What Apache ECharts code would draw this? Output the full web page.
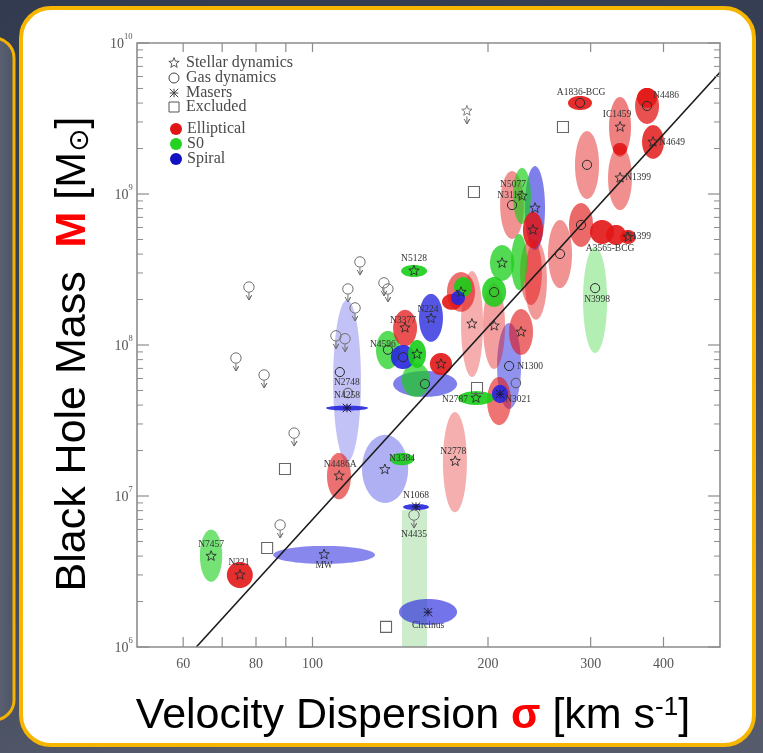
<!DOCTYPE html>
<html>
<head>
<meta charset="utf-8">
<script src="https://cdn.jsdelivr.net/npm/echarts@6/dist/echarts.min.js"></script>
<style>
html, body { margin: 0; padding: 0; background: #363f55; }
#c { width: 763px; height: 753px; }
</style>
</head>
<body>
<div id="c"></div>
<script>
// ---- M–sigma sample: velocity dispersion (km/s) and black-hole mass (solar masses) ----
const galaxyNames = ['N7457','N221','MW','Circinus','N1068','N3384','','N4486A','N2778','N4258',
  'N2748','N5128','N224','N3377','N4596','','','','','',
  '','','','','','','','','N1300','N3021',
  '','N2787','N5077','N3115','','','','','','',
  '','','A3565-BCG','','N1399','N3998','A1836-BCG','IC1459','N1399','',
  'N4486','','N4649',''];
// E = elliptical, S0 = lenticular, S = spiral
const galaxyTypes = ['S0','E','S','S','S','S0','S','E','E','S',
  'S','S0','S','E','S0','S','S0','S','S0','E',
  'E','E','S0','S','E','S0','E','E','S','E',
  'S','S0','E','S0','S','E','E','E','S0','S0',
  'E','E','E','E','E','S0','E','E','E','E',
  'E','E','E','E'];
// measurement method: star = stellar dynamics, gas = gas dynamics, maser = masers
const methods = ['star','star','star','maser','maser','','star','star','star','maser',
  'gas','star','star','star','gas','gas','star','gas','','star',
  'star','','','','star','gas','star','star','gas','',
  'maser','star','gas','star','star','star','','','star','',
  'gas','gas','','','star','gas','gas','star','star','',
  'gas','','star','gas'];
const sigma = [67, 75.1, 104.7, 157.8, 150.5, 142.4, 133.1, 111.1, 175.7, 114.6,
  111.4, 149.3, 159.7, 144.1, 134.7, 143.0, 151.1, 155.9, 150.5, 166.1,
  179.8, 173.5, 181.2, 177.7, 187.7, 204.9, 204.9, 227.9, 217.4, 209.0,
  209.8, 190.7, 219.9, 228.8, 240.8, 238.9, 237.0, 241.7, 211.4, 226.1,
  265.8, 288.8, 313.8, 331.6, 347.8, 305.3, 287.7, 337.0, 337.0, 337.0,
  374.8, 374.8, 383.8, 295.7];
const sigmaLo = [64.1, 71.3, 85.6, 140.7, 143.0, 135.8, 121.6, 105.9, 167.4, 105.5,
  108.5, 141.9, 152.3, 137.5, 128.5, 136.3, 145.9, 137.5, 142.4, 159.0,
  170.1, 166.8, 174.9, 172.9, 179.8, 195.4, 196.1, 217.4, 207.3, 199.3,
  203.2, 177.7, 209.8, 220.8, 231.4, 229.6, 227.0, 231.4, 201.6, 219.1,
  253.5, 275.4, 299.2, 318.8, 337.0, 291.1, 274.3, 322.6, 321.3, 327.6,
  357.5, 360.3, 367.5, 282.0];
const sigmaHi = [70.0, 79.0, 128.0, 177.0, 158.4, 149.3, 145.9, 116.4, 184.0, 124.5,
  121.1, 157.2, 167.4, 151.1, 141.2, 149.9, 156.6, 177.0, 159.0, 173.5,
  190.0, 180.5, 187.7, 182.6, 196.1, 214.8, 213.9, 238.9, 227.9, 219.1,
  216.5, 204.9, 230.5, 237.0, 250.5, 248.5, 247.5, 252.4, 221.7, 233.4,
  278.7, 302.8, 329.0, 345.0, 358.9, 320.1, 301.6, 351.8, 353.2, 346.4,
  393.0, 389.9, 400.8, 310.1];
const mass = [4.0e6, 3.0e6, 4.1e6, 1.7e6, 8.5e6, 1.76e7, 1.5e7, 1.36e7, 1.7e7, 3.83e7,
  6.62e7, 3.1e8, 1.5e8, 1.3e8, 9.3e7, 8.3e7, 8.7e7, 5.52e7, 5.86e7, 7.48e7,
  2.24e8, 1.93e8, 2.42e8, 2.05e8, 1.38e8, 2.24e8, 1.34e8, 1.22e8, 7.26e7, 4.26e7,
  4.73e7, 4.46e7, 8.45e8, 9.7e8, 8.07e8, 5.78e8, 3.04e8, 2.69e8, 3.49e8, 3.55e8,
  4.01e8, 6.24e8, 5.6e8, 5.35e8, 5.19e8, 2.38e8, 4.01e9, 2.78e9, 1.28e9, 1.99e9,
  3.83e9, 4.33e9, 2.21e9, 1.56e9];
const massLo = [2.7e6, 2.46e6, 3.55e6, 1.4e6, 8.07e6, 1.6e7, 9.0e6, 9.5e6, 7.8e6, 3.68e7,
  1.68e7, 2.82e8, 1.05e8, 9.8e7, 6.93e7, 6.93e7, 7.05e7, 4.53e7, 4.53e7, 6.33e7,
  1.66e8, 1.71e8, 2.08e8, 1.84e8, 6.14e7, 1.79e8, 6.93e7, 8.6e7, 3.77e7, 2.95e7,
  4.13e7, 4.01e7, 5.04e8, 6.33e8, 4.26e8, 4.39e8, 1.84e8, 1.47e8, 2.66e8, 2.31e8,
  2.38e8, 4.46e8, 4.67e8, 4.59e8, 4.67e8, 8.86e7, 3.6e9, 1.76e9, 7.83e8, 1.81e9,
  2.91e9, 3.72e9, 1.71e9, 9.27e8];
const massHi = [6.0e6, 3.66e6, 4.67e6, 2.08e6, 8.85e6, 1.93e7, 2.54e7, 1.93e7, 3.6e7, 3.97e7,
  1.99e8, 3.39e8, 2.18e8, 1.71e8, 1.24e8, 1.0e8, 1.08e8, 6.73e7, 7.6e7, 8.86e7,
  3.04e8, 2.18e8, 2.82e8, 2.28e8, 3.09e8, 2.82e8, 2.58e8, 1.73e8, 1.40e8, 6.14e7,
  5.44e7, 4.95e7, 1.42e9, 1.49e9, 1.53e9, 7.6e8, 5.04e8, 4.95e8, 4.59e8, 5.43e8,
  6.73e8, 8.71e8, 6.73e8, 6.24e8, 5.78e8, 4.46e8, 4.46e9, 4.39e9, 2.08e9, 2.18e9,
  5.04e9, 5.04e9, 2.86e9, 2.61e9];

// upper limits (marker sits on the limit, arrow points down)
const limitSigma = [77.8, 73.9, 82.6, 93.0, 88.0, 120.6, 115.0, 118.3, 109.7, 113.7, 132.6, 134.7, 149.3, 184.0];
const limitMass = [2.42e8, 8.2e7, 6.33e7, 2.61e7, 6.43e6, 3.55e8, 2.35e8, 1.76e8, 1.15e8, 1.10e8, 2.58e8, 2.35e8, 7.48e6, 3.55e9];
const limitKind = ['gas','gas','gas','gas','gas','gas','gas','gas','gas','gas','gas','gas','gas','star'];
// N4435: upper limit drawn as a band down to the bottom of the range
const bandName = 'N4435';
const bandSigmaLo = 142.4, bandSigmaHi = 157.2, bandMassHi = 8.07e6, bandMassLo = 1e6;
// additional gas-dynamics points without an error ellipse
const gasSigma = [115.0, 223.3];
const gasMass = [4.81e7, 5.6e7];
// excluded objects
const excludedSigma = [89.7, 83.6, 133.7, 189.2, 268.9, 191.5];
const excludedMass = [1.51e7, 4.53e6, 1.36e6, 1.03e9, 2.78e9, 5.19e7];
// fitted relation
const fitSigma = [63.2, 500];
const fitMass = [1e6, 6.41e9];

// axis ticks
const xTickValues = [60, 70, 80, 90, 100, 200, 300, 400];
const xTickLabels = [60, 80, 100, 200, 300, 400];
const yMajorTicks = [1e6, 1e7, 1e8, 1e9, 1e10];
const yMajorExp = [6, 7, 8, 9, 10];
const yMinorTicks = [2e6, 3e6, 4e6, 5e6, 6e6, 7e6, 8e6, 9e6,
  2e7, 3e7, 4e7, 5e7, 6e7, 7e7, 8e7, 9e7,
  2e8, 3e8, 4e8, 5e8, 6e8, 7e8, 8e8, 9e8,
  2e9, 3e9, 4e9, 5e9, 6e9, 7e9, 8e9, 9e9];

// ---- styling ----
const typeColor = { E: [226, 22, 22], S0: [24, 206, 24], S: [38, 38, 222] };
const typeShade = { E: 1, S0: 1, S: 1.3 };
const serif = 'Liberation Serif';
const sans = 'Liberation Sans';
const labelOffset = {
  0: [0, -12], 1: [-1, -12], 2: [0, 11], 3: [0, 13], 4: [0, -11], 5: [0, 0], 7: [1, -11],
  8: [-2, -10], 9: [0, -12], 10: [7, 10], 11: [0, -12], 12: [-3, -9], 13: [-2, -7],
  14: [-5, -5], 28: [21, 1], 29: [19, -1], 31: [-21, 2], 32: [1, -21], 33: [-12, 0],
  42: [8, 16], 44: [10, -1], 45: [2, 11], 46: [1, -10], 47: [-3, -12], 48: [18, 0],
  50: [19, -10], 52: [19, 1]
};

function starPoints(cx, cy, R, r) {
  const pts = [];
  for (let k = 0; k < 10; k++) {
    const ang = -Math.PI / 2 + k * Math.PI / 5;
    const rad = k % 2 === 0 ? R : r;
    pts.push([cx + rad * Math.cos(ang), cy + rad * Math.sin(ang)]);
  }
  return pts;
}
function ellipsePoints(cx, cy, rx, ry) {
  const pts = [];
  for (let k = 0; k < 64; k++) {
    const t = 2 * Math.PI * k / 64;
    pts.push([cx + rx * Math.cos(t), cy + ry * Math.sin(t)]);
  }
  return pts;
}
function starEl(x, y, color) {
  return { type: 'polygon', shape: { points: starPoints(x, y, 5.4, 2.3) },
    style: { fill: 'none', stroke: color, lineWidth: 0.9 } };
}
function circleEl(x, y, color, r) {
  return { type: 'circle', shape: { cx: x, cy: y, r: r || 4.6 },
    style: { fill: 'none', stroke: color, lineWidth: 1 } };
}
function maserEl(x, y, color) {
  const s = 4.2, ch = [];
  [[-s, 0, s, 0], [-s, -s, s, s], [-s, s, s, -s], [0, -s, 0, s]].forEach(d => {
    ch.push({ type: 'line', shape: { x1: x + d[0], y1: y + d[1], x2: x + d[2], y2: y + d[3] },
      style: { stroke: color, lineWidth: 1 } });
  });
  return { type: 'group', children: ch };
}
function arrowEl(x, y, color) {
  return { type: 'polyline', shape: { points: [[x - 2.8, y + 8], [x, y + 13], [x + 2.8, y + 8], [x, y + 13], [x, y + 5.5]] },
    style: { fill: 'none', stroke: color, lineWidth: 1 } };
}
function markerEl(kind, x, y, color) {
  if (kind === 'star') return starEl(x, y, color);
  if (kind === 'gas') return circleEl(x, y, color);
  if (kind === 'maser') return maserEl(x, y, color);
  return null;
}

function logArea(i) {
  return Math.log10(sigmaHi[i] / sigmaLo[i]) * Math.log10(massHi[i] / massLo[i]);
}
const ellipseOrder = galaxyNames.map((_, i) => i).sort((a, b) => logArea(b) - logArea(a));

const chart = echarts.init(document.getElementById('c'), null, { renderer: 'canvas', width: 763, height: 753 });

const legendText = (x, y, t) => ({ type: 'text', x: x, y: y,
  style: { text: t, fontSize: 16, fontFamily: serif, fill: '#4a4a4a', verticalAlign: 'middle', textVerticalAlign: 'middle' } });

const option = {
  animation: false,
  backgroundColor: {
    type: 'linear', x: 0, y: 0, x2: 0.3, y2: 1,
    colorStops: [{ offset: 0, color: '#333b50' }, { offset: 0.6, color: '#3a4257' }, { offset: 1, color: '#555b6b' }]
  },
  grid: { left: 137, top: 43, width: 583, height: 604, containLabel: false },
  xAxis: {
    type: 'log', logBase: 10, min: 50, max: 500,
    axisLine: { show: false }, axisTick: { show: false }, axisLabel: { show: false }, splitLine: { show: false }
  },
  yAxis: {
    type: 'log', logBase: 10, min: 1e6, max: 1e10,
    axisLine: { show: false }, axisTick: { show: false }, axisLabel: { show: false }, splitLine: { show: false }
  },
  graphic: [
    { type: 'rect', z: -10, shape: { x: -40, y: 38, width: 54, height: 682, r: 20 },
      style: { fill: { type: 'linear', x: 0, y: 0, x2: 1, y2: 0,
        colorStops: [{ offset: 0, color: '#7a7f8c' }, { offset: 1, color: '#4c5366' }] },
        stroke: '#f3b300', lineWidth: 3 } },
    { type: 'rect', z: -10, shape: { x: 21, y: 8, width: 733, height: 737, r: 30 },
      style: { fill: '#ffffff', stroke: '#f6b600', lineWidth: 4 } },
    // axis titles
    { type: 'text', z: 10, x: 73, y: 354, rotation: Math.PI / 2,
      style: { text: 'Black Hole Mass  {m|M} [M{sun|⊙}]',
        fontSize: 43, fontFamily: sans, fill: '#000',
        align: 'center', verticalAlign: 'middle', textAlign: 'center', textVerticalAlign: 'middle',
        rich: {
          m: { fontSize: 43, fontFamily: sans, fontWeight: 'bold', fill: '#ff0000' },
          sun: { fontSize: 28, fontFamily: 'DejaVu Sans', fill: '#000', verticalAlign: 'bottom' }
        } } },
    { type: 'text', z: 10, x: 413, y: 716,
      style: { text: 'Velocity Dispersion {s|σ} [km s{e|-1}]',
        fontSize: 43, fontFamily: sans, fill: '#000',
        align: 'center', verticalAlign: 'middle', textAlign: 'center', textVerticalAlign: 'middle',
        rich: {
          s: { fontSize: 43, fontFamily: sans, fontWeight: 'bold', fill: '#ff0000' },
          e: { fontSize: 26, fontFamily: sans, fill: '#000', verticalAlign: 'top' }
        } } },
    // symbol key
    { type: 'group', z: 10, children: [
      { type: 'polygon', shape: { points: starPoints(174, 63, 5.4, 2.3) }, style: { fill: 'none', stroke: '#444', lineWidth: 0.9 } },
      { type: 'circle', shape: { cx: 174, cy: 78, r: 5 }, style: { fill: 'none', stroke: '#444', lineWidth: 1 } },
      maserEl(174, 93, '#444'),
      { type: 'rect', shape: { x: 169, y: 102, width: 10, height: 10 }, style: { fill: 'none', stroke: '#555', lineWidth: 1 } },
      { type: 'circle', shape: { cx: 176, cy: 129, r: 6 }, style: { fill: '#e01414' } },
      { type: 'circle', shape: { cx: 176, cy: 144, r: 6 }, style: { fill: '#22d322' } },
      { type: 'circle', shape: { cx: 176, cy: 159, r: 6 }, style: { fill: '#1212c4' } },
      legendText(186, 63, 'Stellar dynamics'),
      legendText(186, 78, 'Gas dynamics'),
      legendText(186, 93, 'Masers'),
      legendText(186, 107, 'Excluded'),
      legendText(187, 129, 'Elliptical'),
      legendText(187, 144, 'S0'),
      legendText(187, 159, 'Spiral')
    ] }
  ],
  series: [
    // frame, ticks and tick labels
    {
      type: 'custom', z: 6, silent: true, clip: false,
      data: [[100, 1e8]],
      renderItem: function (params, api) {
        const ch = [];
        const tl = api.coord([50, 1e10]), br = api.coord([500, 1e6]);
        const axisColor = '#8c8c8c', tickColor = '#8c8c8c', txt = '#555';
        ch.push({ type: 'rect', shape: { x: tl[0], y: tl[1], width: br[0] - tl[0], height: br[1] - tl[1] },
          style: { fill: 'none', stroke: axisColor, lineWidth: 1.6 } });
        xTickValues.forEach(v => {
          const b = api.coord([v, 1e6]), t = api.coord([v, 1e10]);
          ch.push({ type: 'line', shape: { x1: b[0], y1: b[1], x2: b[0], y2: b[1] - 10 }, style: { stroke: tickColor, lineWidth: 1.2 } });
          ch.push({ type: 'line', shape: { x1: t[0], y1: t[1], x2: t[0], y2: t[1] + 9 }, style: { stroke: tickColor, lineWidth: 1.2 } });
        });
        xTickLabels.forEach(v => {
          const b = api.coord([v, 1e6]);
          ch.push({ type: 'text', x: b[0], y: b[1] + 17,
            style: { text: String(v), fontSize: 14, fontFamily: serif, fill: txt,
              align: 'center', verticalAlign: 'middle', textAlign: 'center', textVerticalAlign: 'middle' } });
        });
        yMajorTicks.forEach((v, k) => {
          const l = api.coord([50, v]), r = api.coord([500, v]);
          ch.push({ type: 'line', shape: { x1: l[0], y1: l[1], x2: l[0] + 12, y2: l[1] }, style: { stroke: tickColor, lineWidth: 1.2 } });
          ch.push({ type: 'line', shape: { x1: r[0], y1: r[1], x2: r[0] - 12, y2: r[1] }, style: { stroke: tickColor, lineWidth: 1.2 } });
          const expStr = String(yMajorExp[k]);
          const expW = expStr.length * 4.5;
          ch.push({ type: 'text', x: l[0] - 4 - expW, y: l[1] + 1,
            style: { text: '10', fontSize: 14, fontFamily: serif, fill: txt,
              align: 'right', verticalAlign: 'middle', textAlign: 'right', textVerticalAlign: 'middle' } });
          ch.push({ type: 'text', x: l[0] - 4 - expW, y: l[1] - 6,
            style: { text: expStr, fontSize: 8.5, fontFamily: serif, fill: txt,
              align: 'left', verticalAlign: 'middle', textAlign: 'left', textVerticalAlign: 'middle' } });
        });
        yMinorTicks.forEach(v => {
          const l = api.coord([50, v]), r = api.coord([500, v]);
          ch.push({ type: 'line', shape: { x1: l[0], y1: l[1], x2: l[0] + 6, y2: l[1] }, style: { stroke: tickColor, lineWidth: 1 } });
          ch.push({ type: 'line', shape: { x1: r[0], y1: r[1], x2: r[0] - 6, y2: r[1] }, style: { stroke: tickColor, lineWidth: 1 } });
        });
        return { type: 'group', children: ch };
      }
    },
    // N4435 upper-limit band
    {
      type: 'custom', z: 1, silent: true, clip: true,
      data: [[(bandSigmaLo + bandSigmaHi) / 2, bandMassHi]],
      renderItem: function (params, api) {
        const a = api.coord([bandSigmaLo, bandMassHi]), b = api.coord([bandSigmaHi, bandMassLo]);
        return { type: 'rect', shape: { x: a[0], y: a[1], width: b[0] - a[0], height: b[1] - a[1] },
          style: { fill: 'rgba(24,170,24,0.22)' } };
      }
    },
    // error ellipses, shaded more strongly for tighter measurements
    {
      type: 'custom', z: 2, silent: true, clip: true,
      encode: { x: 0, y: 1 },
      data: ellipseOrder.map(i => [sigma[i], mass[i], i]),
      renderItem: function (params, api) {
        const i = api.value(2);
        const p0 = api.coord([sigmaLo[i], massHi[i]]);
        const p1 = api.coord([sigmaHi[i], massLo[i]]);
        const cx = (p0[0] + p1[0]) / 2, cy = (p0[1] + p1[1]) / 2;
        const rx = Math.abs(p1[0] - p0[0]) / 2, ry = Math.abs(p1[1] - p0[1]) / 2;
        const t = galaxyTypes[i], c = typeColor[t];
        const a = Math.max(0.18, Math.min(0.9, typeShade[t] * 42 / Math.pow(rx * ry, 0.75)));
        return { type: 'polygon', shape: { points: ellipsePoints(cx, cy, rx, ry) },
          style: { fill: 'rgba(' + c[0] + ',' + c[1] + ',' + c[2] + ',' + a.toFixed(3) + ')' } };
      }
    },
    // fitted M–sigma relation
    {
      type: 'line', z: 4, silent: true, symbol: 'none',
      data: fitSigma.map((s, k) => [s, fitMass[k]]),
      lineStyle: { color: '#1a1a1a', width: 1.6 }
    },
    // galaxy markers
    {
      type: 'custom', z: 5, silent: true, clip: false,
      encode: { x: 0, y: 1 },
      data: galaxyNames.map((n, i) => [sigma[i], mass[i], i]).filter(d => methods[d[2]] !== ''),
      renderItem: function (params, api) {
        const i = api.value(2);
        const p = api.coord([sigma[i], mass[i]]);
        const col = methods[i] === 'maser' ? '#1a1a3a' : '#2a2a2a';
        return markerEl(methods[i], p[0], p[1], col);
      }
    },
    // upper limits
    {
      type: 'custom', z: 5, silent: true, clip: false,
      encode: { x: 0, y: 1 },
      data: limitSigma.map((s, k) => [s, limitMass[k], k]),
      renderItem: function (params, api) {
        const k = api.value(2);
        const p = api.coord([limitSigma[k], limitMass[k]]);
        const col = '#707070';
        const head = limitKind[k] === 'star' ? starEl(p[0], p[1], col) : circleEl(p[0], p[1], col, 5.2);
        return { type: 'group', children: [head, arrowEl(p[0], p[1], col)] };
      }
    },
    // other gas-dynamics points
    {
      type: 'custom', z: 5, silent: true, clip: false,
      encode: { x: 0, y: 1 },
      data: gasSigma.map((s, k) => [s, gasMass[k]]),
      renderItem: function (params, api) {
        const p = api.coord([api.value(0), api.value(1)]);
        return circleEl(p[0], p[1], '#555', 4.8);
      }
    },
    // excluded objects
    {
      type: 'custom', z: 5, silent: true, clip: false,
      encode: { x: 0, y: 1 },
      data: excludedSigma.map((s, k) => [s, excludedMass[k]]),
      renderItem: function (params, api) {
        const p = api.coord([api.value(0), api.value(1)]);
        return { type: 'rect', shape: { x: p[0] - 5.5, y: p[1] - 5.5, width: 11, height: 11 },
          style: { fill: 'none', stroke: '#666', lineWidth: 1.1 } };
      }
    },
    // galaxy names
    {
      type: 'custom', z: 7, silent: true, clip: false,
      encode: { x: 0, y: 1 },
      data: galaxyNames.map((n, i) => [sigma[i], mass[i], i]).filter(d => galaxyNames[d[2]] !== '')
        .concat([[149.3, 7.48e6, -1]]),
      renderItem: function (params, api) {
        const i = api.value(2);
        let p, text, off;
        if (i < 0) {
          p = api.coord([api.value(0), api.value(1)]); text = bandName; off = [0, 19];
        } else {
          p = api.coord([sigma[i], mass[i]]); text = galaxyNames[i]; off = labelOffset[i] || [0, -12];
        }
        return { type: 'text', x: p[0] + off[0], y: p[1] + off[1],
          style: { text: text, fontSize: 9.5, fontFamily: serif, fill: '#333',
            align: 'center', verticalAlign: 'middle', textAlign: 'center', textVerticalAlign: 'middle' } };
      }
    }
  ]
};
chart.setOption(option);
</script>
</body>
</html>
